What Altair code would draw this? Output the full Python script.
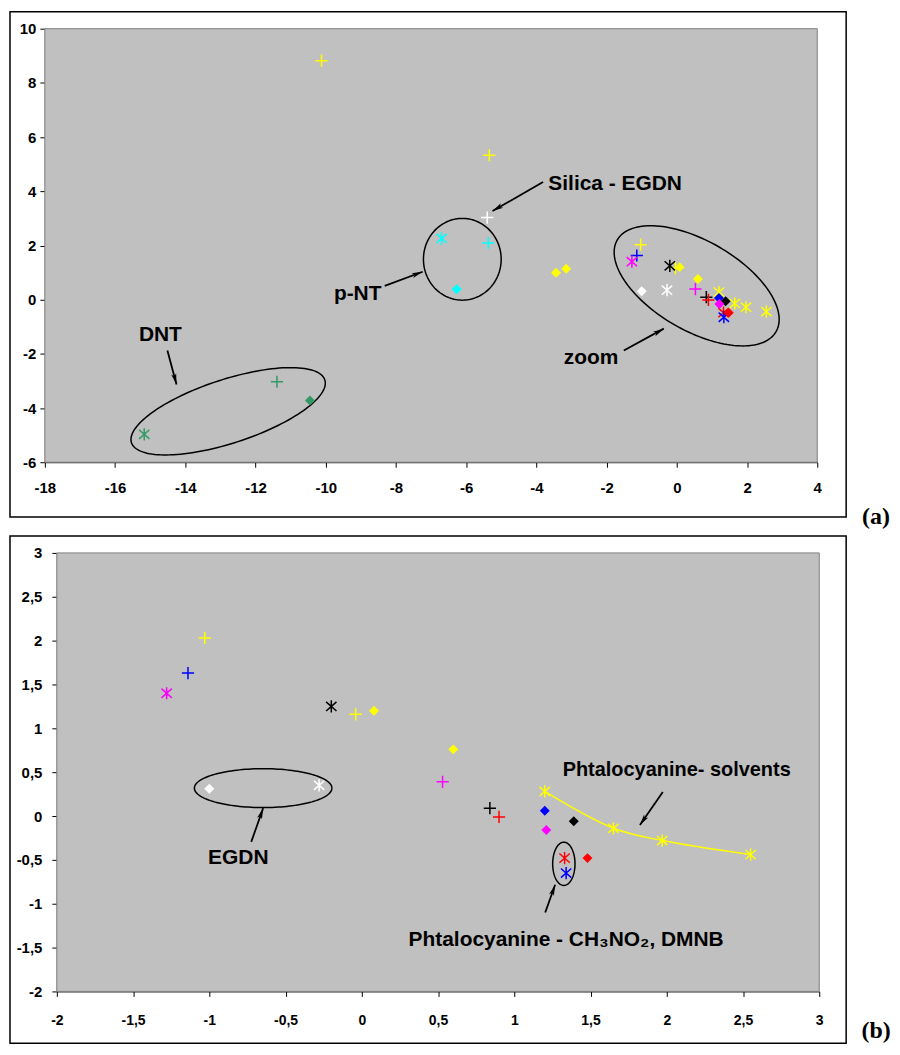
import altair as alt
import numpy as np
import pandas as pd

# ---------------- data ----------------
# points common to both panels (the "zoom" cluster)
cl_x = [-1.03, -0.04, -1.14, -1.28, -0.20, 0.08, 0.60, 0.53, 0.84, 0.90,
        1.20, 1.39, 1.21, 1.33, 1.48, 1.34, -1.00, -0.28]
cl_y = [2.03, 1.16, 1.63, 1.40, 1.25, 1.20, 0.76, 0.39, 0.09, -0.01,
        0.06, -0.06, -0.16, -0.48, -0.48, -0.65, 0.31, 0.35]
cl_color = ["yellow", "yellow", "blue", "magenta", "black", "yellow", "yellow", "magenta", "black", "red",
            "blue", "black", "magenta", "red", "red", "blue", "white", "white"]
cl_marker = ["plus", "plus", "plus", "asterisk", "asterisk", "diamond", "diamond", "plus", "plus", "plus",
             "diamond", "diamond", "diamond", "asterisk", "diamond", "asterisk", "diamond", "asterisk"]

# Phtalocyanine - solvents series (yellow asterisks joined by a smooth line)
sol_x = [1.20, 1.65, 1.97, 2.55]
sol_y = [0.28, -0.14, -0.28, -0.44]

# points only visible in the full view (a)
ex_x = [-10.12, -5.34, -5.40, -6.70, -5.37, -6.27, -3.44, -3.15, -11.39, -10.45, -15.17]
ex_y = [8.82, 5.33, 3.03, 2.26, 2.09, 0.38, 0.99, 1.14, -3.03, -3.72, -4.97]
ex_color = ["yellow", "yellow", "white", "cyan", "cyan", "cyan", "yellow", "yellow", "green", "green", "green"]
ex_marker = ["plus", "plus", "plus", "asterisk", "plus", "diamond", "diamond", "diamond", "plus", "diamond", "asterisk"]

color_names = ["yellow", "blue", "magenta", "black", "red", "white", "cyan", "green"]
color_hex = ["#FFFF00", "#0000FF", "#FF00FF", "#000000", "#FF0000", "#FFFFFF", "#00FFFF", "#339966"]

# axes
xa_dom, ya_dom = [-18, 4], [-6, 10]
xa_ticks = list(range(-18, 5, 2))
ya_ticks = list(range(-6, 11, 2))
xb_dom, yb_dom = [-2, 3], [-2, 3]
xb_ticks = [-2, -1.5, -1, -0.5, 0, 0.5, 1, 1.5, 2, 2.5, 3]
yb_ticks = [-2, -1.5, -1, -0.5, 0, 0.5, 1, 1.5, 2, 2.5, 3]

# annotations: (centre x, centre y, semi-axis a px, semi-axis b px, rotation deg)
ell_a = [(-6.11, 1.49, 39, 41, 0), (0.565, 0.51, 92, 45, 30), (-12.78, -4.12, 102, 32, -18)]
ell_b = [(-0.647, 0.318, 69, 19.5, 0), (1.325, -0.545, 11.2, 21.7, 0)]
# arrows: tail x, tail y, tip x, tip y
arr_a = [(-3.81, 4.34, -5.25, 3.27), (-8.32, 0.51, -7.24, 1.03),
         (-14.51, -1.88, -14.25, -3.13), (-1.51, -1.88, -0.37, -1.07)]
arr_b = [(-0.725, -0.295, -0.647, 0.09), (1.974, 0.273, 1.824, -0.102),
         (1.203, -1.10, 1.268, -0.784)]
# text, x, y, align, font size
txt_a = [("Silica - EGDN", -3.66, 4.26, "left", 21), ("p-NT", -9.09, 0.22, "center", 21),
         ("DNT", -14.71, -1.29, "center", 21), ("zoom", -2.44, -2.17, "center", 21)]
txt_b = [("EGDN", -0.81, -0.477, "center", 21), ("Phtalocyanine- solvents", 2.065, 0.523, "center", 20),
         ("Phtalocyanine - CH\u2083NO\u2082, DMNB", 1.34, -1.41, "center", 21)]

# ---------------- layout ----------------
WA, HA = 775, 435
WB, HB = 765, 440
SHIFT_B = 12          # panel (b) plot area starts 12px right of panel (a)'s
PLUS = "M-1,0L1,0M0,-1L0,1"
AST = "M0,-1L0,1M-0.85,-0.75L0.85,0.75M-0.85,0.75L0.85,-0.75"
HEAD = "M0,0L0.42,1.8L0,1.35L-0.42,1.8Z"
FONT = "Liberation Sans"
BG = "#C0C0C0"


def enc_x(dom, ticks, rng, fs, pad):
    return alt.X("x:Q", scale=alt.Scale(domain=dom, nice=False, zero=False, range=rng),
                 axis=alt.Axis(values=ticks, title=None, labelFontSize=fs, labelPadding=pad,
                               labelExpr="replace(toString(datum.value), '.', ',')"))


def enc_y(dom, ticks, offset, pad):
    return alt.Y("y:Q", scale=alt.Scale(domain=dom, nice=False, zero=False),
                 axis=alt.Axis(values=ticks, title=None, offset=offset, labelPadding=pad,
                               labelExpr="replace(toString(datum.value), '.', ',')"))


def panel(pts, xdom, ydom, xt, yt, W, H, ells, arrs, txts, frame, lab, labpos, shift, ypad, xfs, xpad):
    sx = W / (xdom[1] - xdom[0])
    sy = H / (ydom[1] - ydom[0])
    X = enc_x(xdom, xt, [shift, shift + W], xfs, xpad)
    Y = enc_y(ydom, yt, -shift, ypad)
    cscale = alt.Scale(domain=color_names, range=color_hex)

    layers = []
    one = pd.DataFrame({"k": [0]})
    layers.append(alt.Chart(one).mark_rect(fill=BG, stroke="#808080", strokeWidth=1).encode(
        x=alt.value(shift), x2=alt.value(shift + W), y=alt.value(0), y2=alt.value(H)))
    layers.append(alt.Chart(one).mark_rect(fill="transparent", stroke="black", strokeWidth=1.5).encode(
        x=alt.value(frame[0]), x2=alt.value(frame[1]), y=alt.value(frame[2]), y2=alt.value(frame[3])))

    # ellipses
    rows = []
    t = np.linspace(0, 2 * np.pi, 145)
    for i, (cx, cy, a, b, th) in enumerate(ells):
        r = np.radians(th)
        ux, uy = a * np.cos(t), b * np.sin(t)
        rx = ux * np.cos(r) - uy * np.sin(r)
        ry = ux * np.sin(r) + uy * np.cos(r)
        for j in range(len(t)):
            rows.append({"id": i, "o": j, "x": cx + rx[j] / sx, "y": cy - ry[j] / sy})
    layers.append(alt.Chart(pd.DataFrame(rows)).mark_line(color="black", strokeWidth=1.5).encode(
        x=X, y=Y, detail="id:N", order="o:Q"))

    # smooth connecting line of the solvent series
    if pts["line"].sum() > 0:
        layers.append(alt.Chart(pts).transform_filter("datum.line == 1").mark_line(
            color="#FFFF00", strokeWidth=1.5, interpolate="catmull-rom").encode(x=X, y=Y))

    stroked = pts[pts.marker != "diamond"]
    filled = pts[pts.marker == "diamond"]
    layers.append(alt.Chart(stroked).mark_point(filled=False, opacity=1, strokeWidth=1.5, size=150).encode(
        x=X, y=Y,
        color=alt.Color("color:N", scale=cscale, legend=None),
        shape=alt.Shape("marker:N", scale=alt.Scale(domain=["plus", "asterisk"], range=[PLUS, AST]), legend=None)))
    layers.append(alt.Chart(filled).mark_point(filled=True, opacity=1, shape="diamond", size=100).encode(
        x=X, y=Y, color=alt.Color("color:N", scale=cscale, legend=None)))

    # arrows
    sh, hd = [], []
    for i, (x0, y0, x1, y1) in enumerate(arrs):
        sh.append({"id": i, "o": 0, "x": x0, "y": y0})
        sh.append({"id": i, "o": 1, "x": x1, "y": y1})
        dx = (x1 - x0) * sx
        dy = -(y1 - y0) * sy
        ang = float(np.degrees(np.arctan2(dx, -dy)) % 360)
        hd.append({"x": x1, "y": y1, "ang": ang})
    layers.append(alt.Chart(pd.DataFrame(sh)).mark_line(color="black", strokeWidth=1.8).encode(
        x=X, y=Y, detail="id:N", order="o:Q"))
    layers.append(alt.Chart(pd.DataFrame(hd)).mark_point(shape=HEAD, filled=True, opacity=1, color="black", size=150).encode(
        x=X, y=Y, angle=alt.Angle("ang:Q", scale=None)))

    # texts
    for (s, tx, ty, al, fs) in txts:
        layers.append(alt.Chart(pd.DataFrame({"x": [tx], "y": [ty]})).mark_text(
            text=s, align=al, baseline="middle", font=FONT, fontSize=fs, fontWeight="bold", color="black").encode(
            x=X, y=Y))

    layers.append(alt.Chart(one).mark_text(text=lab, align="center", baseline="middle",
                                           font="Liberation Serif", fontSize=24, fontWeight="bold",
                                           color="black").encode(
        x=alt.value(labpos[0]), y=alt.value(labpos[1])))

    return alt.layer(*layers, view=alt.ViewBackground(fill="transparent", stroke="transparent")).properties(
        width=W + shift, height=H)


pts_b = pd.DataFrame({"x": cl_x + sol_x, "y": cl_y + sol_y,
                      "color": cl_color + ["yellow"] * len(sol_x),
                      "marker": cl_marker + ["asterisk"] * len(sol_x),
                      "line": [0] * len(cl_x) + [1] * len(sol_x)})
pts_a = pd.concat([pts_b.assign(line=0),
                   pd.DataFrame({"x": ex_x, "y": ex_y, "color": ex_color, "marker": ex_marker,
                                 "line": [0] * len(ex_x)})],
                  ignore_index=True)

pa = panel(pts_a, xa_dom, ya_dom, xa_ticks, ya_ticks, WA, HA, ell_a, arr_a, txt_a,
           frame=(-35, 804, -17, 490), lab="(a)", labpos=(834, 490), shift=0, ypad=4, xfs=15, xpad=13)
pb = panel(pts_b, xb_dom, yb_dom, xb_ticks, yb_ticks, WB, HB, ell_b, arr_b, txt_b,
           frame=(-35, 804, -17, 492), lab="(b)", labpos=(834, 480), shift=SHIFT_B, ypad=10, xfs=14, xpad=17)

chart = alt.vconcat(pa, pb, spacing=91, bounds="flush").properties(
    padding={"left": 0, "top": 0, "right": 0, "bottom": 0}
).configure_axis(
    grid=False, tickSize=5, tickColor="black", domainColor="black", domainWidth=1,
    labelFont=FONT, labelFontSize=15, labelFontWeight="bold", labelColor="black",
    labelFlush=False, labelOverlap=False
)

chart.save("out.html", embed_options={"renderer": "svg", "actions": False})
